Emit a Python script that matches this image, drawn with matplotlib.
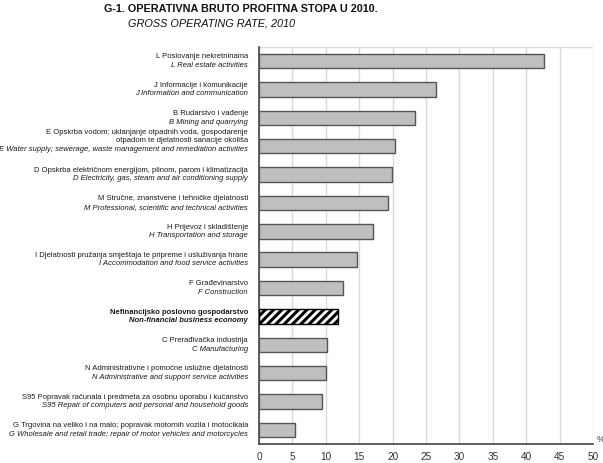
import matplotlib
matplotlib.use("Agg")
import matplotlib.pyplot as plt
import matplotlib.transforms as mtransforms

plt.rcParams["font.family"] = ["Liberation Sans", "DejaVu Sans"]
plt.rcParams["hatch.linewidth"] = 2.2

title_hr = "G-1. OPERATIVNA BRUTO PROFITNA STOPA U 2010."
title_en = "GROSS OPERATING RATE, 2010"

labels_hr = [
    "L Poslovanje nekretninama",
    "J Informacije i komunikacije",
    "B Rudarstvo i vađenje",
    "E Opskrba vodom; uklanjanje otpadnih voda, gospodarenje\notpadom te djelatnosti sanacije okoliša",
    "D Opskrba električnom energijom, plinom, parom i klimatizacija",
    "M Stručne, znanstvene i tehničke djelatnosti",
    "H Prijevoz i skladištenje",
    "I Djelatnosti pružanja smještaja te pripreme i usluživanja hrane",
    "F Građevinarstvo",
    "Nefinancijsko poslovno gospodarstvo",
    "C Prerađivačka industrija",
    "N Administrativne i pomoćne uslužne djelatnosti",
    "S95 Popravak računala i predmeta za osobnu uporabu i kućanstvo",
    "G Trgovina na veliko i na malo; popravak motornih vozila i motocikala",
]
labels_en = [
    "L Real estate activities",
    "J Information and communication",
    "B Mining and quarrying",
    "E Water supply; sewerage, waste management and remediation activities",
    "D Electricity, gas, steam and air conditioning supply",
    "M Professional, scientific and technical activities",
    "H Transportation and storage",
    "I Accommodation and food service activities",
    "F Construction",
    "Non-financial business economy",
    "C Manufacturing",
    "N Administrative and support service activities",
    "S95 Repair of computers and personal and household goods",
    "G Wholesale and retail trade; repair of motor vehicles and motorcycles",
]
values = [42.6, 26.5, 23.3, 20.3, 19.9, 19.3, 17.1, 14.6, 12.5, 11.9, 10.2, 10.0, 9.4, 5.4]
highlight = "Nefinancijsko poslovno gospodarstvo"

xticks = [0, 5, 10, 15, 20, 25, 30, 35, 40, 45, 50]

fig = plt.figure(figsize=(6.03, 4.63), dpi=100)
ax = fig.add_axes([259 / 603, 1 - 444 / 463, 334 / 603, 397 / 463])

n = len(values)
for i, (v, lab) in enumerate(zip(values, labels_hr)):
    if lab == highlight:
        ax.barh(i, v, height=0.51, facecolor="white", edgecolor="black",
                hatch="////", linewidth=1.0, zorder=3)
    else:
        ax.barh(i, v, height=0.51, facecolor="#bfbfbf", edgecolor="#555555",
                linewidth=1.0, zorder=3)

ax.set_ylim(n - 0.5, -0.5)
ax.set_xlim(0, 50)
ax.set_xticks(xticks)
ax.set_xticklabels([str(t) for t in xticks], fontsize=7.2, color="#333333")
ax.tick_params(axis="x", length=0, pad=6)
ax.set_yticks([])
ax.grid(axis="x", color="#d9d9d9", linewidth=1.0, zorder=0)
for s in ["top", "right"]:
    ax.spines[s].set_visible(False)
for s in ["left", "bottom"]:
    ax.spines[s].set_color("#444444")
    ax.spines[s].set_linewidth(1.2)
ax.axhline(-0.5, color="#d9d9d9", linewidth=1.0, zorder=0)

trans = mtransforms.blended_transform_factory(ax.transAxes, ax.transData)
fs = 5.5
lh = 6.2  # line height in points
for i, (hr, en) in enumerate(zip(labels_hr, labels_en)):
    lines = [(l, "normal") for l in hr.split("\n")] + [(en, "italic")]
    weight = "bold" if hr == highlight else "normal"
    k = len(lines)
    extra = 4.0 if k > 2 else 0.0
    for j, (txt, style) in enumerate(lines):
        off = ((k - 1) / 2 - j) * lh + extra
        ax.annotate(txt, xy=(0, i), xycoords=trans,
                    xytext=(-8, off), textcoords="offset points",
                    ha="right", va="center", fontsize=fs,
                    fontstyle=style, fontweight=weight, color="#1a1a1a",
                    annotation_clip=False)

ax.text(1.01, 0.0, "%", transform=ax.transAxes, fontsize=6.5,
        ha="left", va="bottom", color="#333333")

fig.text(104 / 603, 1 - 9 / 463, title_hr, fontsize=7.8, fontweight="bold",
         ha="left", va="center", color="#111111")
fig.text(128 / 603, 1 - 23 / 463, title_en, fontsize=7.8, fontstyle="italic",
         ha="left", va="center", color="#111111")

fig.savefig("out.png", dpi=100)
